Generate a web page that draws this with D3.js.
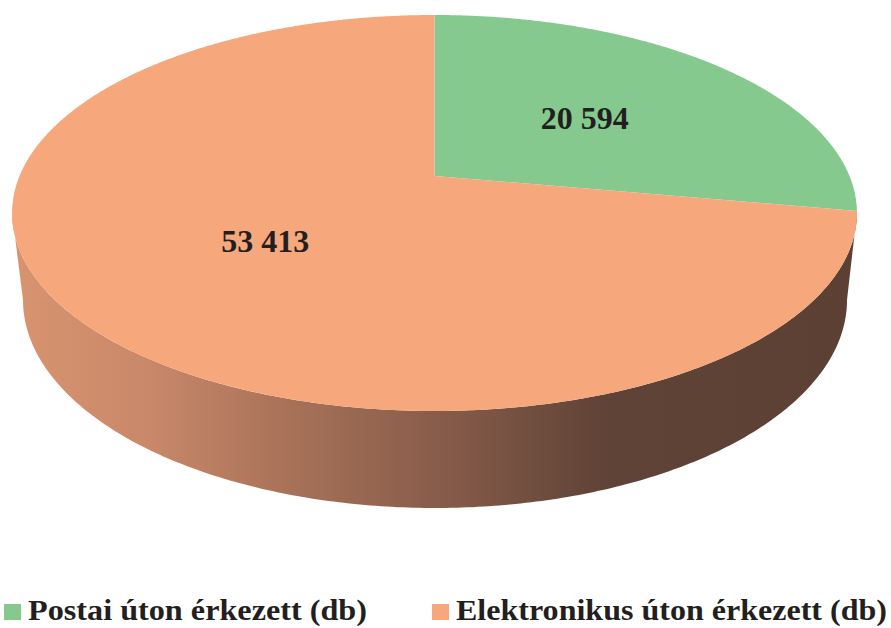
<!DOCTYPE html>
<html>
<head>
<meta charset="utf-8">
<script src="https://cdn.jsdelivr.net/npm/d3@7"></script>
<style>
  html, body { margin: 0; padding: 0; background: #fff; }
  svg { display: block; }
</style>
</head>
<body>
<svg id="chart" width="891" height="628"></svg>
<script>
// Beérkezett beadványok száma csatornánként
const categories = ["Postai úton érkezett (db)", "Elektronikus úton érkezett (db)"];
const values = [20594, 53413];
const colors = ["#86C98F", "#F6A77C"];

const W = 891, H = 628;
const svg = d3.select("#chart");
svg.append("rect").attr("width", W).attr("height", H).attr("fill", "#fff");

// Perspective projection of the pie's top disc (u: right, v: toward viewer, unit radius)
const topDisc = { cx: 434.5, cy: 176, a: 415, b: 191.1, k: -0.18687 };
function project(p, u, v) {
  const w = 1 + p.k * v;
  return [p.cx + p.a * u / w, p.cy + p.b * v / w];
}
// angle measured clockwise from 12 o'clock, radius r in [0,1]
function topPoint(theta, r) {
  return project(topDisc, r * Math.sin(theta), -r * Math.cos(theta));
}

// Bottom rim of the cylinder (seen as an ellipse)
const bottomRim = { cx: 435, cy: 300, rx: 412, ry: 208 };

const pie = d3.pie().sort(null).value(d => d)(values);

// Side wall: visible front part of the rim
const defs = svg.append("defs");
const grad = defs.append("linearGradient")
  .attr("id", "sideShade")
  .attr("gradientUnits", "userSpaceOnUse")
  .attr("x1", 13).attr("x2", 858).attr("y1", 0).attr("y2", 0);
[[0, "#D8946F"], [0.16, "#C9886A"], [0.34, "#A57057"], [0.52, "#855A49"],
 [0.70, "#5F4336"], [1, "#5C4033"]].forEach(([o, c]) =>
  grad.append("stop").attr("offset", o).attr("stop-color", c));

const thR = Math.acos(topDisc.k);        // right silhouette angle
const thL = 2 * Math.PI - thR;           // left silhouette angle
const sidePts = [];
const N = 240;
for (let i = 0; i <= N; i++) {
  const t = thR + (thL - thR) * i / N;
  sidePts.push(topPoint(t, 1));
}
for (let i = 0; i <= N; i++) {
  const phi = Math.PI - Math.PI * i / N;   // lower half of the bottom ellipse, left to right
  sidePts.push([bottomRim.cx + bottomRim.rx * Math.cos(phi), bottomRim.cy + bottomRim.ry * Math.sin(phi)]);
}
svg.append("path")
  .attr("d", d3.line()(sidePts) + "Z")
  .attr("fill", "url(#sideShade)");

// Top face slices
const topG = svg.append("g");
pie.forEach((s, i) => {
  const pts = [topPoint(0, 0)];
  const steps = Math.max(8, Math.ceil((s.endAngle - s.startAngle) / 0.005));
  for (let j = 0; j <= steps; j++) {
    pts.push(topPoint(s.startAngle + (s.endAngle - s.startAngle) * j / steps, 1));
  }
  topG.append("path")
    .attr("d", d3.line()(pts) + "Z")
    .attr("fill", colors[i]);
});

// Value labels
const fmt = d3.formatLocale({ decimal: ",", thousands: " ", grouping: [3], currency: ["", " Ft"] }).format(",d");
const font = "'Liberation Serif', 'Times New Roman', serif";
pie.forEach((s, i) => {
  const mid = (s.startAngle + s.endAngle) / 2;
  const [x, y] = topPoint(mid, 0.5);
  svg.append("text")
    .attr("x", x).attr("y", y).attr("dy", "0.35em")
    .attr("text-anchor", "middle")
    .attr("font-family", font)
    .attr("font-weight", "bold")
    .attr("font-size", 32)
    .attr("fill", "#231F20")
    .text(fmt(s.data));
});

// Legend
const legendX = [4, 432];
const legendWidths = [339, 431];
const legend = svg.append("g");
categories.forEach((c, i) => {
  legend.append("rect")
    .attr("x", legendX[i]).attr("y", 604)
    .attr("width", 17).attr("height", 16)
    .attr("fill", colors[i]);
  legend.append("text")
    .attr("x", legendX[i] + 24).attr("y", 620)
    .attr("font-family", font)
    .attr("font-weight", "bold")
    .attr("font-size", 30)
    .attr("textLength", legendWidths[i])
    .attr("lengthAdjust", "spacingAndGlyphs")
    .attr("fill", "#231F20")
    .text(c);
});
</script>
</body>
</html>
